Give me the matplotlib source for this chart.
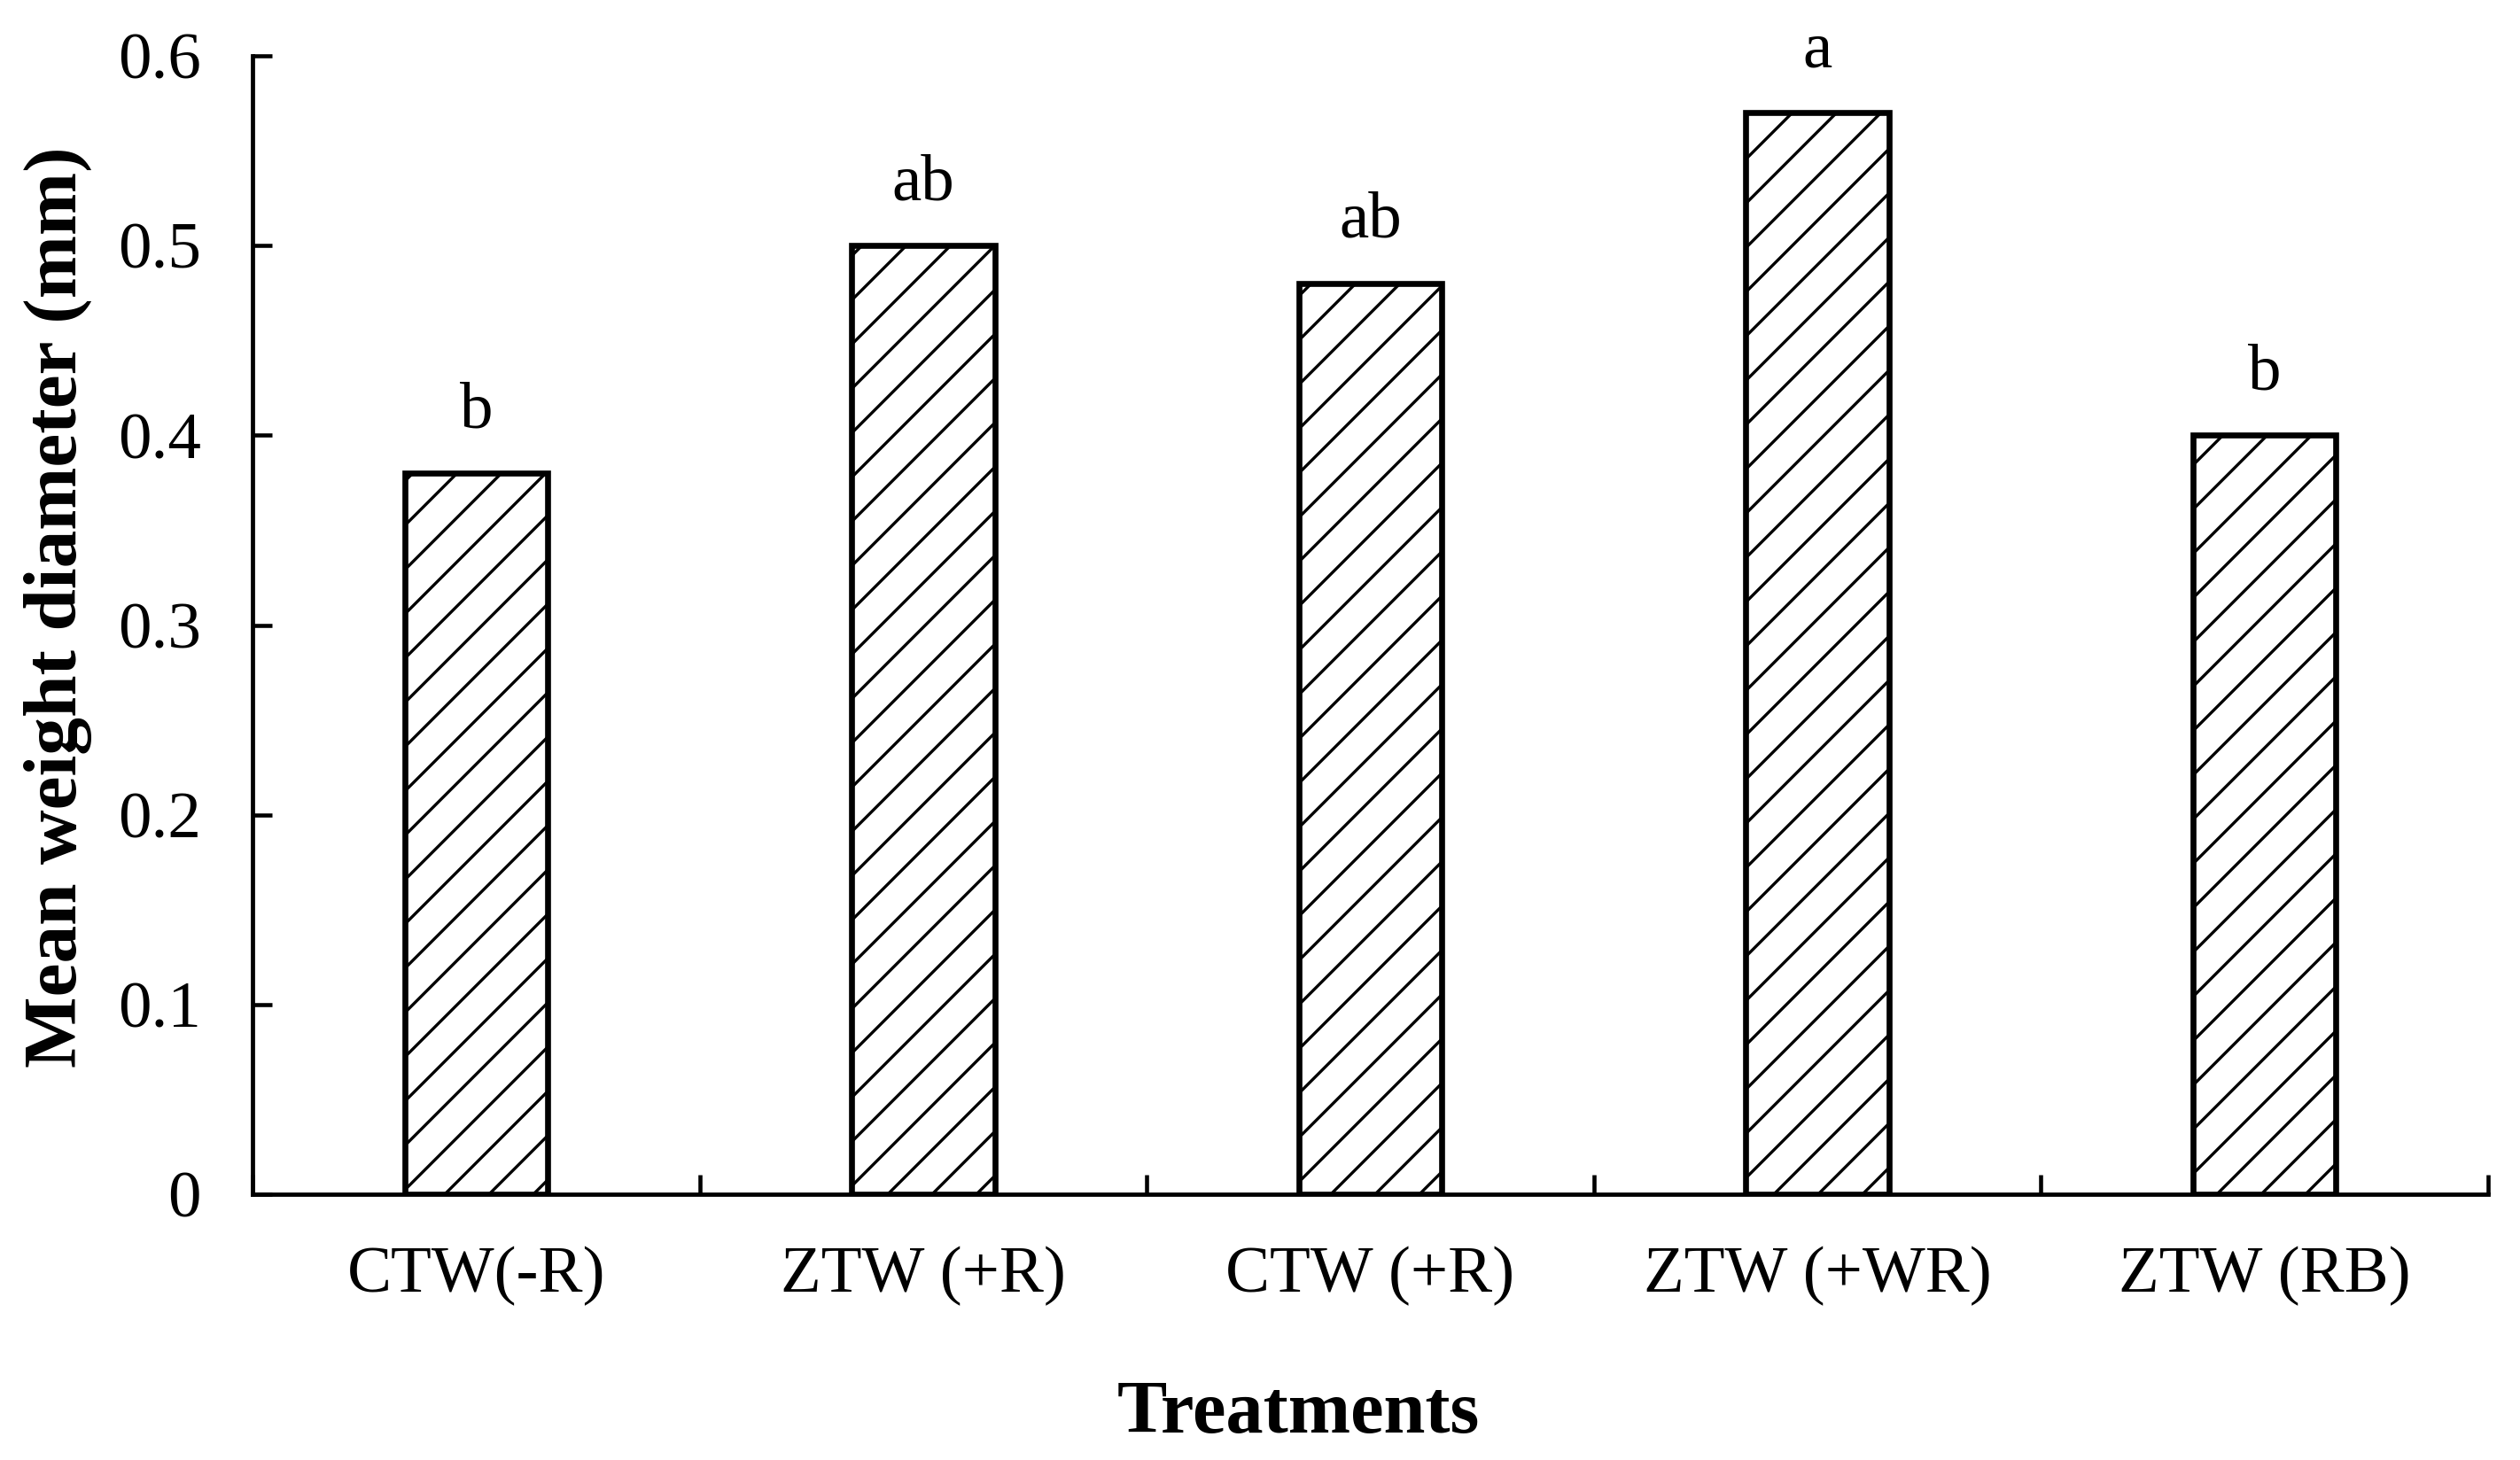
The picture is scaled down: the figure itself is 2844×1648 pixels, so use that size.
import matplotlib
matplotlib.use("Agg")
import matplotlib.pyplot as plt
import numpy as np

categories = ["CTW(-R)", "ZTW (+R)", "CTW (+R)", "ZTW (+WR)", "ZTW (RB)"]
mwd_values = [0.38, 0.50, 0.48, 0.57, 0.40]
sig_letters = ["b", "ab", "ab", "a", "b"]
y_ticks = [0, 0.1, 0.2, 0.3, 0.4, 0.5, 0.6]
y_tick_labels = ["0", "0.1", "0.2", "0.3", "0.4", "0.5", "0.6"]

plt.rcParams['font.family'] = ['Liberation Serif', 'DejaVu Serif']
plt.rcParams['hatch.linewidth'] = 1.6
plt.rcParams['hatch.color'] = 'black'

DPI = 150
fig = plt.figure(figsize=(2844 / DPI, 1648 / DPI), dpi=DPI)
ax = fig.add_axes([0.1002, 0.182, 0.8871, 0.7798])

x = np.arange(len(categories))
bars = ax.bar(x, mwd_values, width=0.32, facecolor='white', edgecolor='black',
              linewidth=3.2, hatch='/', zorder=3)

for xi, v, lab in zip(x, mwd_values, sig_letters):
    ax.annotate(lab, (xi, v), xytext=(0, 25), textcoords='offset points',
                ha='center', va='baseline', fontsize=36, annotation_clip=False)

ax.set_xlim(-0.5, len(categories) - 0.5)
ax.set_ylim(0, 0.6)
ax.set_yticks(y_ticks)
ax.set_yticklabels(y_tick_labels)
ax.set_xticks(x)
ax.set_xticklabels(categories)
ax.set_xticks(np.arange(-0.5, len(categories)), minor=True)

for s in ['top', 'right']:
    ax.spines[s].set_visible(False)
for s in ['left', 'bottom']:
    ax.spines[s].set_linewidth(2.3)

ax.tick_params(axis='y', which='major', direction='in', length=10.5, width=2.2,
               labelsize=36, pad=28)
ax.tick_params(axis='x', which='major', length=0, labelsize=36, pad=28)
ax.tick_params(axis='x', which='minor', direction='in', length=10.5, width=2.2)

ax.set_xlabel("Treatments", fontsize=40.5, fontweight='bold', va='center')
ax.xaxis.set_label_coords(0.468, -0.193)
ax.set_ylabel("Mean weight diameter (mm)", fontsize=41, fontweight='bold', va='center')
ax.yaxis.set_label_coords(-0.0872, 0.516)

fig.savefig("out.png", dpi=DPI)
